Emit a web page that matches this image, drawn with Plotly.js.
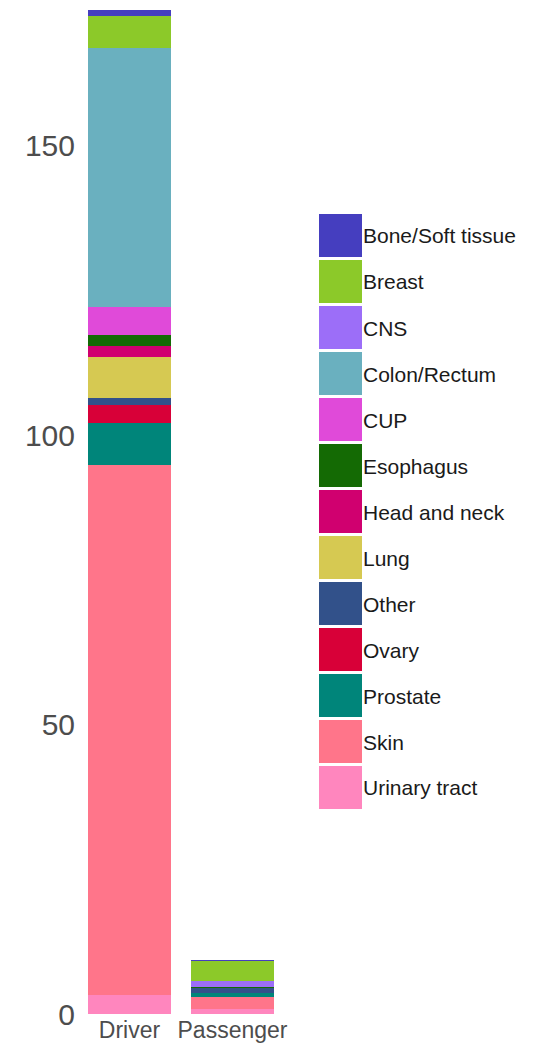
<!DOCTYPE html>
<html>
<head>
<meta charset="utf-8">
<script src="https://cdn.plot.ly/plotly-3.0.1.min.js"></script>
<style>
html,body{margin:0;padding:0;background:#fff;}
#chart{width:534px;height:1060px;}
</style>
</head>
<body>
<div id="chart"></div>
<script>
// Categories on the x axis
var categories = ["Driver", "Passenger"];

// Tumour types (stack order bottom -> top)
var tumourTypes = ["Urinary tract", "Skin", "Prostate", "Ovary", "Other", "Lung",
  "Head and neck", "Esophagus", "CUP", "Colon/Rectum", "CNS", "Breast", "Bone/Soft tissue"];

// Values per tumour type, [Driver, Passenger]
var urinaryTract = [3.2, 0.9];
var skin = [91.6, 2.1];
var prostate = [7.3, 0.7];
var ovary = [3.1, 0];
var other = [1.2, 0.75];
var lung = [7.1, 0];
var headAndNeck = [1.9, 0];
var esophagus = [1.9, 0.22];
var cup = [4.8, 0];
var colonRectum = [44.8, 0];
var cns = [0, 1.1];
var breast = [5.5, 3.4];
var boneSoftTissue = [1.0, 0.17];

var seriesValues = [urinaryTract, skin, prostate, ovary, other, lung, headAndNeck,
  esophagus, cup, colonRectum, cns, breast, boneSoftTissue];

var colors = ["#FF86BE", "#FF758A", "#00857A", "#D80038", "#32518A", "#D6C952",
  "#D0006F", "#146A04", "#E04AD9", "#6AB0BF", "#9C6EF8", "#8CC929", "#453EBF"];

var yTickVals = [0, 50, 100, 150];

var traces = tumourTypes.map(function (name, i) {
  return {
    type: "bar",
    name: name,
    x: categories,
    y: seriesValues[i],
    marker: {color: colors[i], line: {width: 0}},
    hoverinfo: "skip",
    showlegend: false
  };
});

// Plot geometry (pixels)
var W = 534, H = 1060;
var mL = 78, mR = 250, mT = 1, mB = 46;
var plotW = W - mL - mR, plotH = H - mT - mB;
function px2x(px) { return (px - mL) / plotW; }
function px2y(py) { return (H - mB - py) / plotH; }

// Custom legend (alphabetical, top -> bottom)
var legendOrder = tumourTypes.slice().reverse();
var legendColors = colors.slice().reverse();
var shapes = [], annotations = [];
var top0 = 214, pitch = 46, box = 43, boxX0 = 319;
legendOrder.forEach(function (name, i) {
  var y0 = top0 + i * pitch;
  shapes.push({
    type: "rect", xref: "paper", yref: "paper",
    x0: px2x(boxX0), x1: px2x(boxX0 + box),
    y0: px2y(y0 + box), y1: px2y(y0),
    fillcolor: legendColors[i], line: {width: 0}
  });
  annotations.push({
    xref: "paper", yref: "paper",
    x: px2x(boxX0 + box - 1), y: px2y(y0 + box / 2 + 0.5),
    xanchor: "left", yanchor: "middle",
    text: name, showarrow: false,
    font: {family: "Liberation Sans, Arial, sans-serif", size: 21, color: "#1a1a1a"}
  });
});

var layout = {
  width: W, height: H,
  margin: {l: mL, r: mR, t: mT, b: mB, pad: 0},
  paper_bgcolor: "#ffffff",
  plot_bgcolor: "#ffffff",
  barmode: "stack",
  bargap: 0.194,
  showlegend: false,
  xaxis: {
    type: "category",
    range: [-0.5, 1.5],
    showgrid: false, zeroline: false, showline: false,
    ticks: "",
    tickfont: {family: "Liberation Sans, Arial, sans-serif", size: 23, color: "#4d4d4d"}
  },
  yaxis: {
    range: [0, 175],
    tickvals: yTickVals,
    ticktext: yTickVals.map(String),
    showgrid: false, zeroline: false, showline: false,
    ticks: "",
    ticklabelstandoff: 2,
    tickfont: {family: "Liberation Sans, Arial, sans-serif", size: 30, color: "#4d4d4d"}
  },
  shapes: shapes,
  annotations: annotations
};

Plotly.newPlot("chart", traces, layout, {displayModeBar: false, staticPlot: true});
</script>
</body>
</html>
